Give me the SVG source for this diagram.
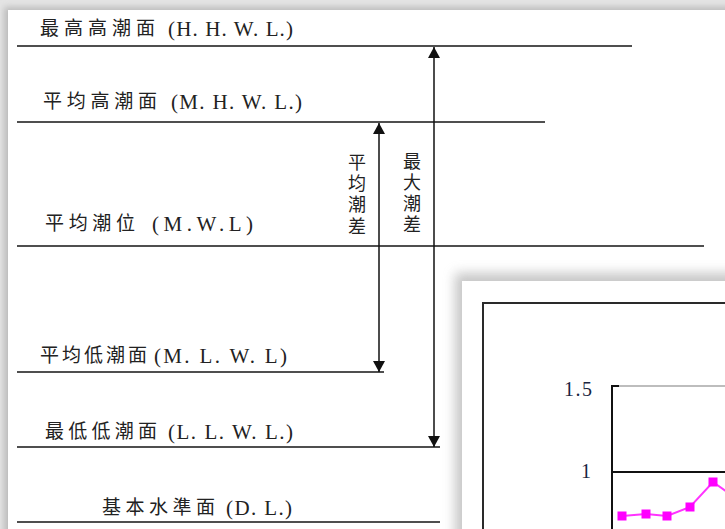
<svg xmlns="http://www.w3.org/2000/svg" width="725" height="529" viewBox="0 0 725 529">
<style>
.lvl{stroke:#141414;stroke-width:1.6;fill:none}
.cjk{font-family:"Noto Sans CJK SC","Noto Sans CJK JP",sans-serif;font-size:19px;fill:#222}
.lat{font-family:"Liberation Serif","Noto Sans CJK SC",serif;font-size:21px;fill:#222}
.vt{font-family:"Noto Sans CJK SC","Noto Sans CJK JP",sans-serif;font-size:18px;fill:#222;writing-mode:vertical-rl}
.arr{stroke:#111;stroke-width:1.5;fill:none;marker-start:url(#ah);marker-end:url(#ah)}
.num{font-family:"Liberation Serif",serif;font-size:20px;fill:#1a2540;text-anchor:end}
</style>
<defs>
<marker id="ah" markerUnits="userSpaceOnUse" markerWidth="12" markerHeight="12" refX="11" refY="6" orient="auto-start-reverse">
<path d="M0,0 L11,6 L0,12 z" fill="#111"/>
</marker>
<filter id="blur" x="-20%" y="-20%" width="140%" height="140%"><feGaussianBlur stdDeviation="6"/></filter>
<filter id="blur2" x="-20%" y="-20%" width="140%" height="140%"><feGaussianBlur stdDeviation="3"/></filter>
</defs>
<rect width="725" height="529" fill="#e4e4e4"/>
<rect x="4" y="7" width="740" height="540" fill="#bbb" filter="url(#blur2)"/>
<rect x="8" y="10" width="720" height="530" fill="#fff"/>

<g id="levels">
<g id="hhwl"><line class="lvl" x1="17" y1="46" x2="632" y2="46"/>
<text class="cjk" x="40" y="35" textLength="115" lengthAdjust="spacing">最高高潮面</text>
<text class="lat" x="168" y="36" textLength="125" lengthAdjust="spacing">(H. H. W. L.)</text></g>
<g id="mhwl"><line class="lvl" x1="17" y1="122" x2="545" y2="122"/>
<text class="cjk" x="43" y="108" textLength="114" lengthAdjust="spacing">平均高潮面</text>
<text class="lat" x="171" y="109" textLength="131" lengthAdjust="spacing">(M. H. W. L.)</text></g>
<g id="mwl"><line class="lvl" x1="17" y1="246" x2="704" y2="246"/>
<text class="cjk" x="45" y="230" textLength="90" lengthAdjust="spacing">平均潮位</text>
<text class="lat" x="152" y="231" textLength="101" lengthAdjust="spacing">(M.W.L)</text></g>
<g id="mlwl"><line class="lvl" x1="17" y1="372" x2="384" y2="372"/>
<text class="cjk" x="40" y="362" textLength="107" lengthAdjust="spacing">平均低潮面</text>
<text class="lat" x="154" y="363" textLength="133" lengthAdjust="spacing">(M. L. W. L)</text></g>
<g id="llwl"><line class="lvl" x1="17" y1="447" x2="440" y2="447"/>
<text class="cjk" x="45" y="438" textLength="112" lengthAdjust="spacing">最低低潮面</text>
<text class="lat" x="168" y="439" textLength="125" lengthAdjust="spacing">(L. L. W. L.)</text></g>
<g id="dl"><line class="lvl" x1="17" y1="522" x2="440" y2="522"/>
<text class="cjk" x="102" y="514" textLength="113" lengthAdjust="spacing">基本水準面</text>
<text class="lat" x="226" y="515" textLength="66" lengthAdjust="spacing">(D. L.)</text></g>
</g>

<g id="connectors">
<line class="arr" x1="434" y1="447" x2="434" y2="47"/>
<line class="arr" x1="379" y1="372" x2="379" y2="123"/>
</g>

<g id="mean-range-label">
<text class="vt" x="357" y="153" textLength="82" lengthAdjust="spacing">平均潮差</text>
</g>
<g id="max-range-label">
<text class="vt" x="412" y="152" textLength="81" lengthAdjust="spacing">最大潮差</text>
</g>

<g id="chart">
<rect x="455" y="273" width="300" height="280" fill="#999" opacity="0.55" filter="url(#blur)"/>
<rect x="462" y="281" width="270" height="260" fill="#fff"/>
<rect x="483" y="303" width="260" height="240" fill="none" stroke="#2a2a2a" stroke-width="2"/>
<line x1="612" y1="386" x2="730" y2="386" stroke="#bdbdbd" stroke-width="2"/>
<line x1="612" y1="386" x2="619" y2="386" stroke="#111" stroke-width="2"/>
<line x1="612" y1="385" x2="612" y2="535" stroke="#111" stroke-width="2"/>
<line x1="612" y1="472" x2="730" y2="472" stroke="#111" stroke-width="2"/>
<text class="num" x="592" y="396" textLength="28" lengthAdjust="spacing">1.5</text>
<text class="num" x="591" y="478">1</text>
<polyline points="622,516 646,514 667,516 690,507 713,482 730,494" fill="none" stroke="#ff33ff" stroke-width="2"/>
<g fill="#ff00ff">
<rect x="617.5" y="511.5" width="9" height="9"/>
<rect x="641.5" y="509.5" width="9" height="9"/>
<rect x="662.5" y="511.5" width="9" height="9"/>
<rect x="685.5" y="502.5" width="9" height="9"/>
<rect x="708.5" y="477.5" width="9" height="9"/>
</g>
</g>
</svg>
